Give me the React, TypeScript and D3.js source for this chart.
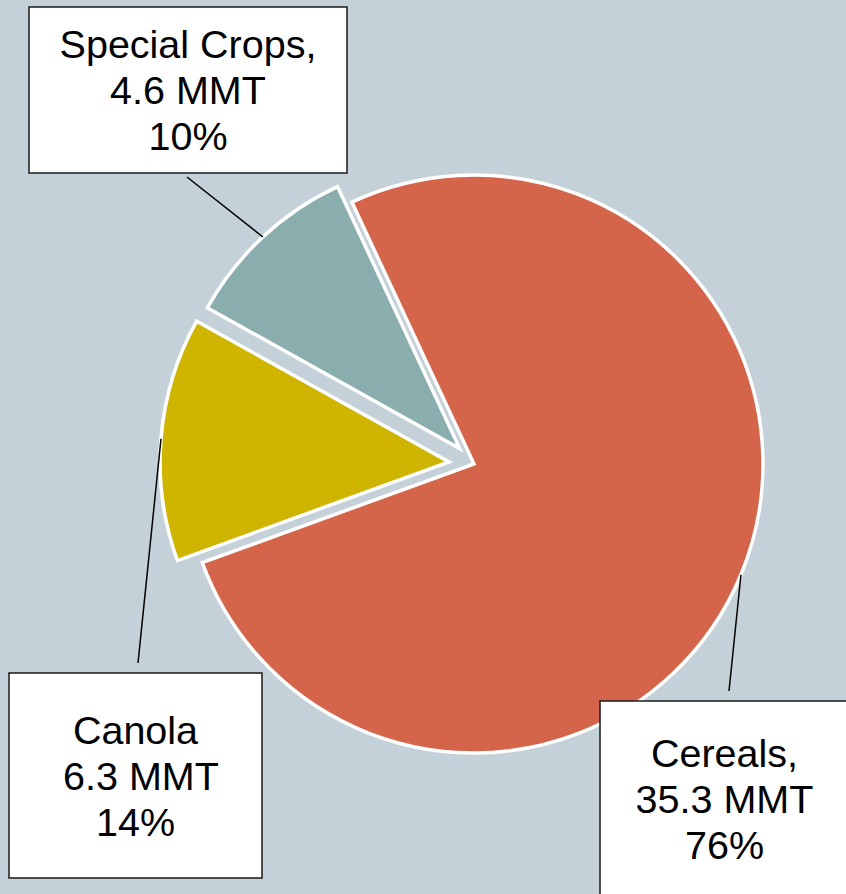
import React from "react";
import * as d3 from "d3";

const categories = ["Cereals", "Canola", "Special Crops"];
const values = [35.3, 6.3, 4.6];
const labelLines = [
  ["Cereals,", "35.3 MMT", "76%"],
  ["Canola", " 6.3 MMT", "14%"],
  ["Special Crops,", "4.6 MMT", "10%"],
];
const colors = ["#D4654B", "#CFB500", "#8AADAD"];
const explode = [0, 25, 21];

// layout (label boxes and where leader lines meet them)
const boxes = [
  { x: 600, y: 701, w: 249, h: 196, lx: 729, ly: 691 },
  { x: 9, y: 673, w: 253, h: 205, lx: 138, ly: 663 },
  { x: 29, y: 7, w: 318, h: 166, lx: 187, ly: 177 },
];

const W = 846;
const H = 894;
const cx = 474;
const cy = 464;
const R = 289;
const fontSize = 39.5;
const lineH = 46;

export default function App() {
  const pie = d3
    .pie<number>()
    .sort(null)
    .startAngle((-25 * Math.PI) / 180)
    .endAngle((335 * Math.PI) / 180);
  const arcs = pie(values);
  const arc = d3.arc<d3.PieArcDatum<number>>().innerRadius(0).outerRadius(R);

  return (
    <div style={{ position: "absolute", left: 0, top: 0 }}>
      <svg width={W} height={H} style={{ display: "block" }}>
        <rect x={0} y={0} width={W} height={H} fill="#C5D1D8" />
        <g transform={`translate(${cx},${cy})`}>
          {arcs.map((a, i) => {
            const mid = (a.startAngle + a.endAngle) / 2;
            const dx = explode[i] * Math.sin(mid);
            const dy = -explode[i] * Math.cos(mid);
            return (
              <path
                key={categories[i]}
                d={arc(a) || ""}
                transform={`translate(${dx},${dy})`}
                fill={colors[i]}
                stroke="#FFFFFF"
                strokeWidth={3.5}
                strokeLinejoin="miter"
              />
            );
          })}
        </g>
        {arcs.map((a, i) => {
          const mid = (a.startAngle + a.endAngle) / 2;
          const rr = R + explode[i];
          const px = cx + rr * Math.sin(mid);
          const py = cy - rr * Math.cos(mid);
          const b = boxes[i];
          return (
            <line
              key={"l" + i}
              x1={px}
              y1={py}
              x2={b.lx}
              y2={b.ly}
              stroke="#000"
              strokeWidth={1.5}
            />
          );
        })}
        {boxes.map((b, i) => {
          const tx = b.x + b.w / 2;
          const midY = b.y + b.h / 2;
          const lines = labelLines[i];
          const firstBase = midY - ((lines.length - 1) / 2) * lineH + fontSize * 0.36;
          return (
            <g key={"b" + i}>
              <rect
                x={b.x}
                y={b.y}
                width={b.w}
                height={b.h}
                fill="#FFFFFF"
                stroke="#1a1a1a"
                strokeWidth={1.5}
              />
              <text
                fontFamily="Liberation Sans, Arial, sans-serif"
                fontSize={fontSize}
                fill="#000"
                textAnchor="middle"
                style={{ whiteSpace: "pre" }}
              >
                {lines.map((t, j) => (
                  <tspan key={j} x={tx} y={firstBase + j * lineH}>
                    {t}
                  </tspan>
                ))}
              </text>
            </g>
          );
        })}
      </svg>
    </div>
  );
}
